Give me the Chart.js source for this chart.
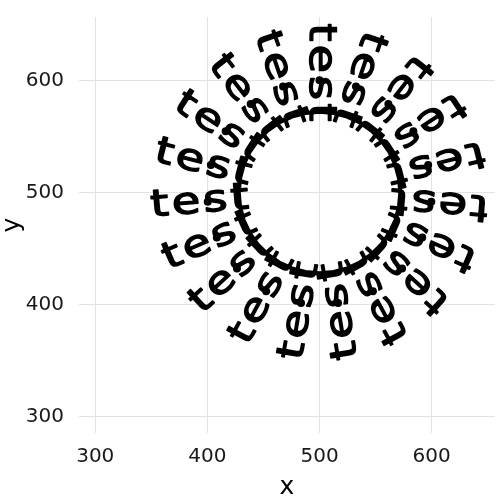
<!DOCTYPE html>
<html>
<head>
<meta charset="utf-8">
<script src="https://cdn.jsdelivr.net/npm/chart.js@4.4.1/dist/chart.umd.min.js"></script>
<style>
  html, body { margin: 0; padding: 0; background: #fff; }
  #wrap { width: 500px; height: 500px; }
</style>
</head>
<body>
<div id="wrap"><canvas id="chart" width="500" height="500"></canvas></div>
<script>
// values (data units)
const center = [500, 500];
const pointX = [500, 532.5, 561.4, 583.7, 596.9, 599.7, 591.6, 573.6, 547.6, 516.5, 483.5, 452.4, 426.4, 408.4, 400.3, 403.1, 416.3, 438.6, 467.5];
const pointY = [600, 594.6, 578.9, 554.7, 524.5, 491.7, 459.8, 432.3, 412.0, 401.4, 401.4, 412.0, 432.3, 459.8, 491.7, 524.5, 554.7, 578.9, 594.6];
const labelText = 'test';
const circleX = [572, 570.9, 567.7, 562.4, 555.2, 546.3, 536, 524.6, 512.5, 500, 487.5, 475.4, 464, 453.7, 444.8, 437.6, 432.3, 429.1,
                 428, 429.1, 432.3, 437.6, 444.8, 453.7, 464, 475.4, 487.5, 500, 512.5, 524.6, 536, 546.3, 555.2, 562.4, 567.7, 570.9, 572];
const circleY = [500, 512.5, 524.6, 536, 546.3, 555.2, 562.4, 567.7, 570.9, 572, 570.9, 567.7, 562.4, 555.2, 546.3, 536, 524.6, 512.5,
                 500, 487.5, 475.4, 464, 453.7, 444.8, 437.6, 432.3, 429.1, 428, 429.1, 432.3, 437.6, 444.8, 453.7, 464, 475.4, 487.5, 500];
const xTicks = [300, 400, 500, 600];
const yTicks = [300, 400, 500, 600];
const xRange = [285.5, 656.5];
const yRange = [285.5, 656.5];

const FONT = '"DejaVu Sans", "Liberation Sans", sans-serif';
const CIRCLE = 1;

// labels run inward along the ray from the centre through each point
const radialText = {
  id: 'radialText',
  afterDatasetDraw(chart, args) {
    if (args.index !== CIRCLE) return;
    const { ctx, scales: { x, y } } = chart;
    const cx = x.getPixelForValue(center[0]);
    const cy = y.getPixelForValue(center[1]);
    ctx.save();
    ctx.fillStyle = '#000';
    ctx.strokeStyle = '#000';
    ctx.lineWidth = 1.4;
    ctx.lineJoin = 'round';
    ctx.font = '37px ' + FONT;
    ctx.textAlign = 'center';
    ctx.textBaseline = 'alphabetic';
    if ('letterSpacing' in ctx) ctx.letterSpacing = '2.5px';
    pointX.forEach((vx, i) => {
      const px = x.getPixelForValue(vx);
      const py = y.getPixelForValue(pointY[i]);
      const a = Math.atan2(py - cy, px - cx);
      ctx.save();
      ctx.translate(px + 8 * Math.cos(a), py + 8 * Math.sin(a));
      ctx.rotate(a + Math.PI);
      ctx.scale(1.25, 1);
      ctx.fillText(labelText, 1.2, 10);
      ctx.strokeText(labelText, 1.2, 10);
      ctx.restore();
    });
    ctx.restore();
  }
};

const axisTicks = (size, pad) => ({
  color: '#1a1a1a',
  padding: pad,
  font: { family: FONT, size: size },
});

new Chart(document.getElementById('chart'), {
  type: 'scatter',
  data: {
    datasets: [
      {
        label: 'points',
        data: pointX.map((v, i) => ({ x: v, y: pointY[i] })),
        pointRadius: 4,
        pointBackgroundColor: '#000',
        pointBorderWidth: 0,
      },
      {
        label: 'circle',
        data: circleX.map((v, i) => ({ x: v, y: circleY[i] })),
        showLine: true,
        borderColor: '#000',
        borderWidth: 4,
        pointRadius: 0,
        tension: 0,
      },
    ],
  },
  options: {
    responsive: false,
    animation: false,
    devicePixelRatio: 1,
    layout: { padding: { top: 17, right: 5, left: 0, bottom: 0 } },
    plugins: { legend: { display: false }, tooltip: { enabled: false } },
    scales: {
      x: {
        type: 'linear',
        min: xRange[0],
        max: xRange[1],
        afterBuildTicks: s => { s.ticks = xTicks.map(v => ({ value: v })); },
        afterFit: s => { s.height = 67; s.paddingLeft = 0; s.paddingRight = 0; },
        grid: { color: '#e3e3e3', lineWidth: 1, drawTicks: false },
        border: { display: false },
        ticks: axisTicks(20, 12),
        title: { display: true, text: 'x', color: '#000', font: { family: FONT, size: 25, lineHeight: 1 }, padding: 0 },
      },
      y: {
        type: 'linear',
        min: yRange[0],
        max: yRange[1],
        afterBuildTicks: s => { s.ticks = yTicks.map(v => ({ value: v })); },
        afterFit: s => { s.width = 79; s.paddingTop = 0; s.paddingBottom = 0; },
        grid: { color: '#e3e3e3', lineWidth: 1, drawTicks: false },
        border: { display: false },
        ticks: axisTicks(20, 15),
        title: { display: true, text: 'y', color: '#000', font: { family: FONT, size: 25, lineHeight: 1 }, padding: 0 },
      },
    },
  },
  plugins: [radialText],
});
</script>
</body>
</html>
